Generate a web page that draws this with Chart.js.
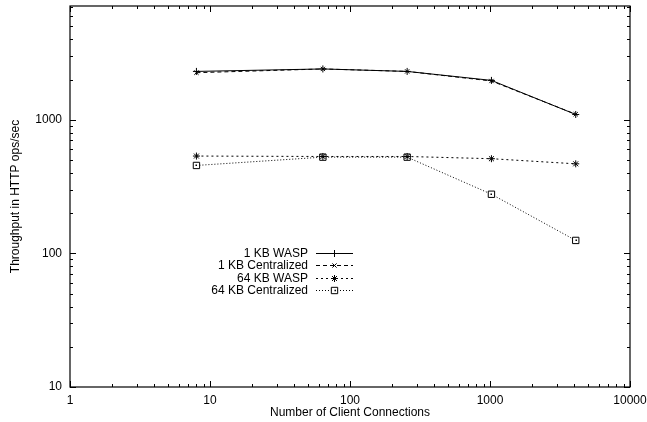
<!DOCTYPE html>
<html>
<head>
<meta charset="utf-8">
<script src="https://cdn.jsdelivr.net/npm/chart.js@4/dist/chart.umd.min.js"></script>
<style>
  html, body { margin: 0; padding: 0; background: #fff; }
  #wrap { width: 647px; height: 422px; position: relative; }
</style>
</head>
<body>
<div id="wrap"><canvas id="chart" width="647" height="422"></canvas></div>
<script>
// client connections (x)
const connections = [8, 64, 256, 1024, 4096];

// throughput in ops/sec
const wasp1k = [2300, 2400, 2300, 1970, 1095];
const central1k = [2250, 2400, 2300, 1950, 1100];
const wasp64k = [535, 531, 531, 511, 468];
const central64k = [455, 525, 525, 277, 125];

const seriesNames = ['1 KB WASP', '1 KB Centralized', '64 KB WASP', '64 KB Centralized'];

const xTickValues = [1, 10, 100, 1000, 10000];
const yTickValues = [10, 100, 1000];

const FONT = 'Liberation Sans, Arimo, Helvetica, Arial, sans-serif';

function toPoints(ys) {
    return connections.map((x, i) => ({ x: x, y: ys[i] }));
}

// major decades + minor 2..9 ticks
function logTicks(min, max) {
    const out = [];
    for (let d = 1; d <= max; d *= 10) {
        for (let m = 1; m <= 9; m++) {
            const v = d * m;
            if (v >= min && v <= max) out.push({ value: v, major: m === 1 });
        }
    }
    return out;
}

// gnuplot style: frame + inward ticks on all four sides
const framePlugin = {
    id: 'frame',
    afterDraw(chart) {
        const ctx = chart.ctx;
        const a = chart.chartArea;
        ctx.save();
        ctx.strokeStyle = '#000';
        ctx.lineWidth = 1;
        ctx.beginPath();
        chart.scales.x.ticks.forEach(t => {
            const px = Math.round(chart.scales.x.getPixelForValue(t.value)) + 0.5;
            const len = t.major ? 6 : 3;
            ctx.moveTo(px, a.bottom); ctx.lineTo(px, a.bottom - len);
            ctx.moveTo(px, a.top); ctx.lineTo(px, a.top + len);
        });
        chart.scales.y.ticks.forEach(t => {
            const py = Math.round(chart.scales.y.getPixelForValue(t.value)) + 0.5;
            const len = t.major ? 6 : 3;
            ctx.moveTo(a.left, py); ctx.lineTo(a.left + len, py);
            ctx.moveTo(a.right, py); ctx.lineTo(a.right - len, py);
        });
        ctx.stroke();
        ctx.lineWidth = 1.2;
        ctx.strokeRect(a.left, a.top, a.right - a.left, a.bottom - a.top);

        // little dot inside the square markers
        ctx.fillStyle = '#000';
        chart.data.datasets.forEach((ds, i) => {
            if (ds.pointStyle !== 'rect') return;
            chart.getDatasetMeta(i).data.forEach(el => {
                ctx.fillRect(Math.round(el.x) - 0.5, Math.round(el.y) - 0.5, 1.5, 1.5);
            });
        });
        ctx.restore();
    }
};

// key: label right-aligned, then line sample with marker
const keyPlugin = {
    id: 'key',
    afterDraw(chart) {
        const ctx = chart.ctx;
        const textRight = 308, x0 = 316, x1 = 353, yTop = 253, step = 12.3;
        ctx.save();
        ctx.font = '12px ' + FONT;
        ctx.textAlign = 'right';
        ctx.textBaseline = 'middle';
        chart.data.datasets.forEach((ds, i) => {
            const y = Math.round(yTop + i * step) + 0.5;
            ctx.fillStyle = '#000';
            ctx.fillText(ds.label, textRight, y);
            ctx.strokeStyle = ds.borderColor;
            ctx.lineWidth = ds.borderWidth;
            ctx.setLineDash(ds.borderDash || []);
            ctx.beginPath();
            ctx.moveTo(x0, y); ctx.lineTo(x1, y);
            ctx.stroke();
            ctx.setLineDash([]);
            const cx = (x0 + x1) / 2;
            if (ds.pointStyle === 'rect') {
                ctx.fillStyle = '#fff';
                Chart.helpers.drawPoint(ctx, {
                    pointStyle: ds.pointStyle, radius: ds.pointRadius, borderWidth: 1, rotation: 0
                }, cx, y);
                ctx.fillStyle = '#000';
                ctx.fillRect(Math.round(cx) - 0.5, y - 0.75, 1.5, 1.5);
            } else {
                ctx.fillStyle = 'rgba(0,0,0,0)';
                Chart.helpers.drawPoint(ctx, {
                    pointStyle: ds.pointStyle, radius: ds.pointRadius, borderWidth: 1, rotation: 0
                }, cx, y);
            }
        });
        ctx.restore();
    }
};

function makeSet(label, ys, dash, style, radius) {
    return {
        label: label,
        data: toPoints(ys),
        showLine: true,
        borderColor: '#000',
        backgroundColor: 'rgba(0,0,0,0)',
        borderWidth: 1,
        borderDash: dash,
        pointStyle: style,
        pointRadius: radius,
        pointBorderColor: '#000',
        pointBackgroundColor: 'rgba(255,255,255,1)',
        pointBorderWidth: 1,
        tension: 0
    };
}

new Chart(document.getElementById('chart'), {
    type: 'scatter',
    data: {
        datasets: [
            makeSet(seriesNames[0], wasp1k, [], 'cross', 3.5),
            makeSet(seriesNames[1], central1k, [4, 3], 'crossRot', 3),
            makeSet(seriesNames[2], wasp64k, [2, 3], 'star', 3.5),
            makeSet(seriesNames[3], central64k, [1, 2], 'rect', 4.5)
        ]
    },
    options: {
        responsive: false,
        animation: false,
        layout: { padding: { top: 6, right: 17, left: 0, bottom: 0 } },
        plugins: { legend: { display: false }, tooltip: { enabled: false } },
        scales: {
            x: {
                type: 'logarithmic',
                min: 1,
                max: 10000,
                grid: { display: false, drawTicks: false },
                border: { display: false },
                afterBuildTicks: s => { s.ticks = logTicks(1, 10000); },
                afterFit: s => { s.height = 35; s.paddingLeft = 0; s.paddingRight = 0; },
                ticks: {
                    autoSkip: false,
                    maxRotation: 0,
                    padding: 6,
                    color: '#000',
                    font: { family: FONT, size: 12 },
                    callback: v => (xTickValues.includes(v) ? String(v) : '')
                },
                title: {
                    display: true,
                    text: 'Number of Client Connections',
                    color: '#000',
                    font: { family: FONT, size: 12 },
                    padding: { top: 0, bottom: 2 }
                }
            },
            y: {
                type: 'logarithmic',
                min: 10,
                max: 7100,
                grid: { display: false, drawTicks: false },
                border: { display: false },
                afterBuildTicks: s => { s.ticks = logTicks(10, 7100); },
                afterFit: s => { s.width = 70; s.paddingTop = 0; s.paddingBottom = 0; },
                ticks: {
                    autoSkip: false,
                    padding: 8,
                    color: '#000',
                    font: { family: FONT, size: 12 },
                    callback: v => (yTickValues.includes(v) ? String(v) : '')
                },
                title: {
                    display: true,
                    text: 'Throughput in HTTP ops/sec',
                    color: '#000',
                    font: { family: FONT, size: 12 },
                    padding: { top: 8, bottom: 0 }
                }
            }
        }
    },
    plugins: [framePlugin, keyPlugin]
});
</script>
</body>
</html>
